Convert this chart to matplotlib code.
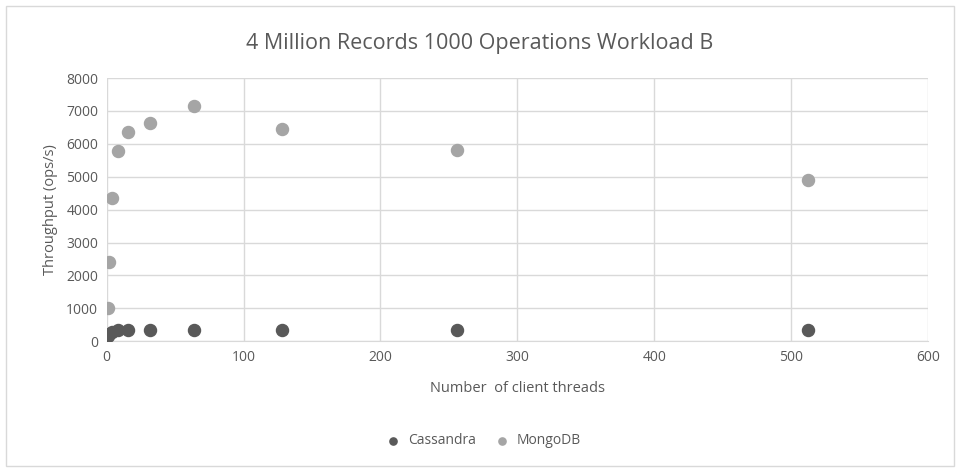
import matplotlib.pyplot as plt
from matplotlib.patches import Rectangle

# 資料
threads = [1, 2, 4, 8, 16, 32, 64, 128, 256, 512]
cassandra = [150, 220, 280, 330, 345, 350, 350, 350, 350, 350]
mongodb = [1010, 2400, 4350, 5790, 6360, 6640, 7140, 6440, 5810, 4890]

plt.rcParams['font.family'] = ['Open Sans', 'DejaVu Sans']
text_color = '#595959'

fig = plt.figure(figsize=(9.6, 4.7), dpi=100)
ax = fig.add_axes([0.111, 0.274, 0.856, 0.56])

# 外框
fig.patches.append(Rectangle((0.006, 0.008), 0.988, 0.98, transform=fig.transFigure,
                             fill=False, edgecolor='#d9d9d9', linewidth=1))

ax.scatter(threads, cassandra, s=75, color='#595959', label='Cassandra', zorder=3)
ax.scatter(threads, mongodb, s=75, color='#a5a5a5', label='MongoDB', zorder=3)

ax.set_xlim(0, 600)
ax.set_ylim(0, 8000)
ax.set_xticks(range(0, 601, 100))
ax.set_yticks(range(0, 8001, 1000))
ax.grid(True, color='#d9d9d9', linewidth=1)
ax.set_axisbelow(True)
for s in ['top', 'right', 'left']:
    ax.spines[s].set_visible(False)
ax.spines['bottom'].set_color('#d9d9d9')
ax.tick_params(length=0, labelsize=10, colors=text_color, pad=6)

ax.set_xlabel('Number  of client threads', fontsize=10.5, color=text_color, labelpad=12)
ax.set_ylabel('Throughput (ops/s)', fontsize=10.5, color=text_color, labelpad=6)
fig.text(0.5, 0.908, '4 Million Records 1000 Operations Workload B', ha='center', va='center',
         fontsize=15.5, color=text_color)

fig.legend(loc='center', bbox_to_anchor=(0.5, 0.062), ncol=2, frameon=False,
           fontsize=10, labelcolor=text_color, handletextpad=0.05, columnspacing=0.9,
           markerscale=0.6)

fig.savefig('out.png', dpi=100)
